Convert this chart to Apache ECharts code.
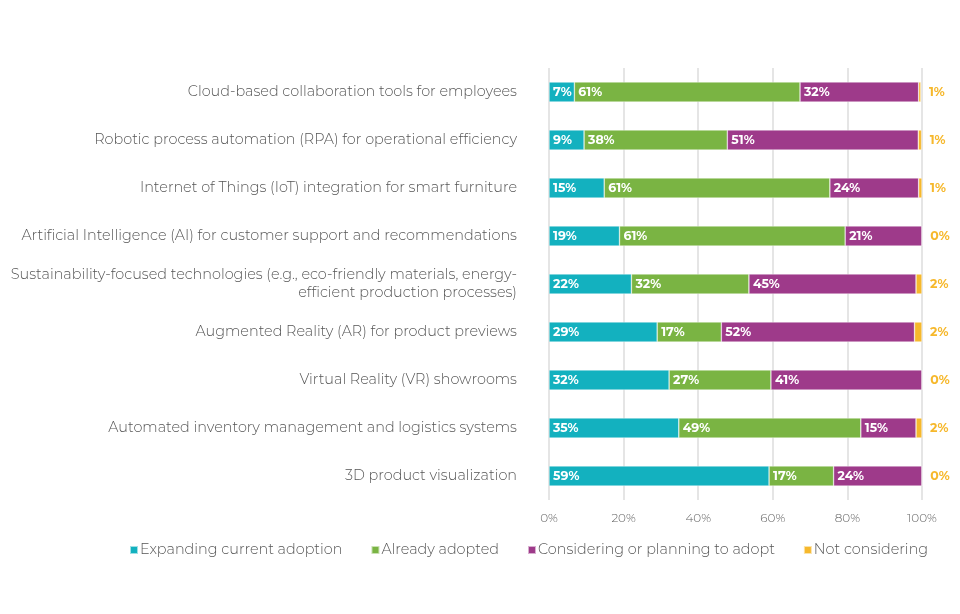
<!DOCTYPE html>
<html>
<head>
<meta charset="utf-8">
<script src="https://cdn.jsdelivr.net/npm/echarts@6/dist/echarts.min.js"></script>
<style>
  html, body { margin: 0; padding: 0; background: #fff; }
  #chart { width: 960px; height: 614px; }
</style>
</head>
<body>
<div id="chart"></div>
<script>
// categories, top to bottom
const categories = [
  'Cloud-based collaboration tools for employees',
  'Robotic process automation (RPA) for operational efficiency',
  'Internet of Things (IoT) integration for smart furniture',
  'Artificial Intelligence (AI) for customer support and recommendations',
  'Sustainability-focused technologies (e.g., eco-friendly materials, energy-\nefficient production processes)',
  'Augmented Reality (AR) for product previews',
  'Virtual Reality (VR) showrooms',
  'Automated inventory management and logistics systems',
  '3D product visualization'
];

// shares in % (labels are rounded)
const expanding   = [6.8, 9.4, 14.8, 18.9, 22.1, 29.0, 32.2, 34.8, 59.0];
const adopted     = [60.5, 38.4, 60.5, 60.5, 31.5, 17.2, 27.3, 48.8, 17.3];
const considering = [31.8, 51.2, 23.8, 20.6, 44.8, 51.8, 40.5, 14.8, 23.7];
const notConsid   = [0.6, 0.9, 0.9, 0, 1.6, 2.0, 0, 1.6, 0];

const xTicks = [0, 20, 40, 60, 80, 100];

const seriesNames = [
  'Expanding current adoption',
  'Already adopted',
  'Considering or planning to adopt',
  'Not considering'
];
const colors = ['#13B1BF', '#7AB443', '#9E3A8A', '#F6B82C'];
const FONT = 'Montserrat, "DejaVu Sans", sans-serif';

const chart = echarts.init(document.getElementById('chart'));

// 柱内白色标签
function insideLabel() {
  return {
    show: true,
    position: 'insideLeft',
    distance: 4,
    color: '#fff',
    fontFamily: FONT,
    fontWeight: 'bold',
    fontSize: 12.5,
    formatter: p => Math.round(p.value) + '%'
  };
}

const allData = [expanding, adopted, considering, notConsid];

const series = allData.map((arr, i) => ({
  name: seriesNames[i],
  type: 'bar',
  stack: 'total',
  barWidth: 20,
  data: arr,
  itemStyle: {
    color: colors[i],
    borderColor: 'rgba(255,255,255,0.6)',
    borderWidth: 0.6
  },
  label: i < 3 ? insideLabel() : {
    show: true,
    position: 'right',
    distance: 8,
    color: colors[3],
    fontFamily: FONT,
    fontWeight: 'bold',
    fontSize: 12.5,
    formatter: p => Math.round(p.value) + '%'
  }
}));

chart.setOption({
  animation: false,
  textStyle: { fontFamily: FONT },
  color: colors,
  legend: {
    bottom: 52,
    left: 124,
    itemWidth: 8,
    itemHeight: 8,
    itemGap: 28,
    icon: 'rect',
    textStyle: { color: '#555', fontSize: 14.4, fontWeight: 300, fontFamily: FONT, padding: [0, 0, 0, -3] },
    data: seriesNames
  },
  grid: {
    left: 549,
    right: 38,
    top: 68,
    bottom: 114
  },
  xAxis: {
    type: 'value',
    min: xTicks[0],
    max: xTicks[xTicks.length - 1],
    interval: 20,
    axisLine: { show: false },
    axisTick: { show: false },
    axisLabel: {
      color: '#666',
      fontSize: 12,
      fontWeight: 300,
      margin: 12,
      formatter: v => v + '%'
    },
    splitLine: { show: true, lineStyle: { color: '#dcdcdc', width: 1.5 } }
  },
  yAxis: {
    type: 'category',
    inverse: true,
    data: categories,
    axisLine: { show: false },
    axisTick: { show: false },
    axisLabel: {
      color: '#555',
      fontSize: 14.4,
      fontWeight: 300,
      margin: 32,
      lineHeight: 18,
      align: 'right'
    }
  },
  series: series
});
</script>
</body>
</html>
